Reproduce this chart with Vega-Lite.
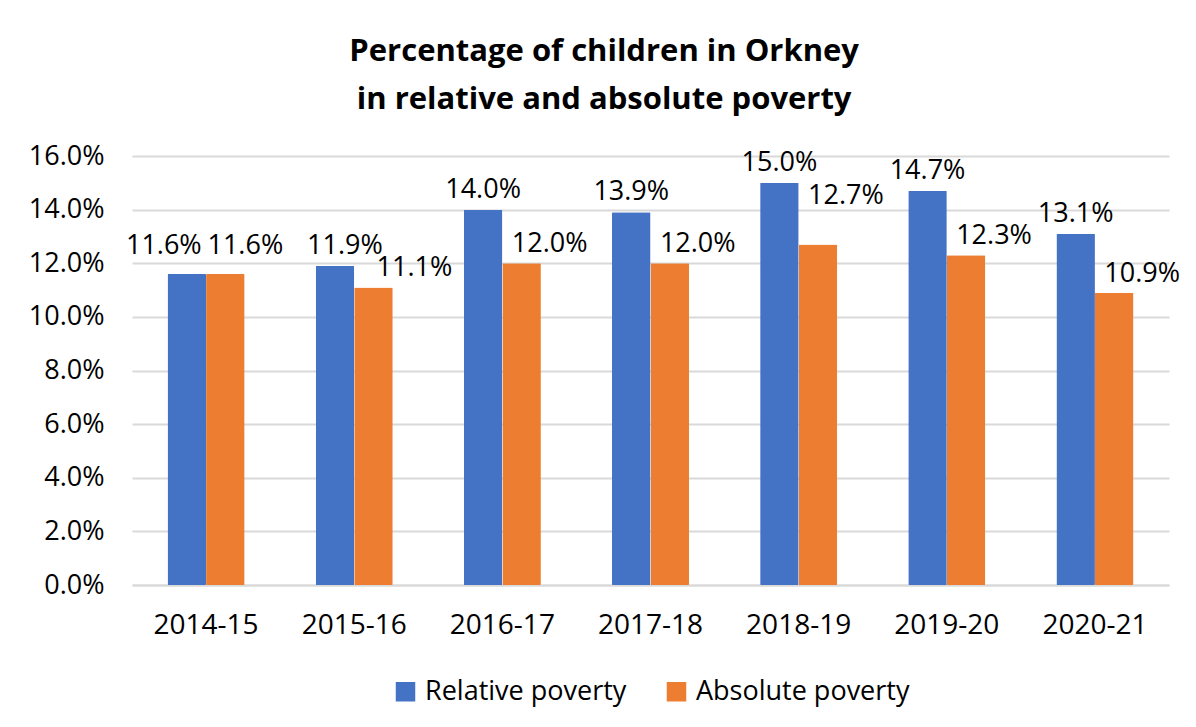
{
  "$schema": "https://vega.github.io/schema/vega-lite/v6.json",
  "width": 1037,
  "height": 429,
  "padding": {"left": 28, "top": 36, "right": 10, "bottom": 10},
  "background": "white",
  "title": {
    "text": ["Percentage of children in Orkney", "in relative and absolute poverty"],
    "font": "Open Sans",
    "fontSize": 31,
    "fontWeight": "bold",
    "color": "black",
    "anchor": "middle",
    "frame": "bounds",
    "lineHeight": 48,
    "offset": 26
  },
  "data": {
    "values": [
      {"year": "2014-15", "series": "Relative poverty", "value": 0.116},
      {"year": "2014-15", "series": "Absolute poverty", "value": 0.116},
      {"year": "2015-16", "series": "Relative poverty", "value": 0.119},
      {"year": "2015-16", "series": "Absolute poverty", "value": 0.111},
      {"year": "2016-17", "series": "Relative poverty", "value": 0.140},
      {"year": "2016-17", "series": "Absolute poverty", "value": 0.120},
      {"year": "2017-18", "series": "Relative poverty", "value": 0.139},
      {"year": "2017-18", "series": "Absolute poverty", "value": 0.120},
      {"year": "2018-19", "series": "Relative poverty", "value": 0.150},
      {"year": "2018-19", "series": "Absolute poverty", "value": 0.127},
      {"year": "2019-20", "series": "Relative poverty", "value": 0.147},
      {"year": "2019-20", "series": "Absolute poverty", "value": 0.123},
      {"year": "2020-21", "series": "Relative poverty", "value": 0.131},
      {"year": "2020-21", "series": "Absolute poverty", "value": 0.109}
    ]
  },
  "encoding": {
    "x": {
      "field": "year",
      "type": "nominal",
      "sort": null,
      "title": null,
      "scale": {"paddingInner": 0.48, "paddingOuter": 0.24},
      "axis": {
        "labelAngle": 0,
        "labelFont": "Open Sans",
        "labelFontSize": 28,
        "labelColor": "black",
        "labelPadding": 26,
        "ticks": false,
        "domain": true,
        "domainColor": "#d9d9d9",
        "domainWidth": 2
      }
    },
    "xOffset": {
      "field": "series",
      "type": "nominal",
      "sort": ["Relative poverty", "Absolute poverty"]
    },
    "y": {
      "field": "value",
      "type": "quantitative",
      "title": null,
      "scale": {"domain": [0, 0.16]},
      "axis": {
        "format": ".1%",
        "values": [0, 0.02, 0.04, 0.06, 0.08, 0.1, 0.12, 0.14, 0.16],
        "labelFont": "Open Sans",
        "labelFontSize": 27,
        "labelColor": "black",
        "labelPadding": 28,
        "labelOverlap": false,
        "ticks": false,
        "domain": false,
        "gridColor": "#d9d9d9",
        "gridWidth": 2
      }
    }
  },
  "layer": [
    {
      "mark": {"type": "bar", "cornerRadius": 1},
      "encoding": {
        "color": {
          "field": "series",
          "type": "nominal",
          "sort": ["Relative poverty", "Absolute poverty"],
          "scale": {"domain": ["Relative poverty", "Absolute poverty"], "range": ["#4472C4", "#ED7D31"]},
          "legend": {
            "orient": "bottom",
            "direction": "horizontal",
            "title": null,
            "labelFont": "Open Sans",
            "labelFontSize": 27,
            "labelColor": "black",
            "labelLimit": 400,
            "symbolType": "square",
            "symbolSize": 380,
            "symbolStrokeWidth": 0,
            "columnPadding": 36,
            "labelOffset": 6,
            "offset": 39
          }
        }
      }
    },
    {
      "transform": [{"filter": "datum.series === 'Relative poverty' && datum.year !== '2014-15' && datum.year !== '2015-16'"}],
      "mark": {"type": "text", "font": "Open Sans", "fontSize": 27, "color": "black", "baseline": "alphabetic", "dx": 0, "dy": -12},
      "encoding": {"text": {"field": "value", "type": "quantitative", "format": ".1%"}}
    },
    {
      "transform": [{"filter": "datum.series === 'Relative poverty' && datum.year === '2015-16'"}],
      "mark": {"type": "text", "font": "Open Sans", "fontSize": 27, "color": "black", "baseline": "alphabetic", "dx": 10, "dy": -12},
      "encoding": {"text": {"field": "value", "type": "quantitative", "format": ".1%"}}
    },
    {
      "transform": [{"filter": "datum.series === 'Relative poverty' && datum.year === '2014-15'"}],
      "mark": {"type": "text", "font": "Open Sans", "fontSize": 27, "color": "black", "baseline": "alphabetic", "dx": -23, "dy": -20},
      "encoding": {"text": {"field": "value", "type": "quantitative", "format": ".1%"}}
    },
    {
      "transform": [{"filter": "datum.series === 'Absolute poverty' && datum.year !== '2014-15' && datum.year !== '2018-19' && datum.year !== '2015-16'"}],
      "mark": {"type": "text", "font": "Open Sans", "fontSize": 27, "color": "black", "baseline": "alphabetic", "dx": 28, "dy": -11},
      "encoding": {"text": {"field": "value", "type": "quantitative", "format": ".1%"}}
    },
    {
      "transform": [{"filter": "datum.series === 'Absolute poverty' && datum.year === '2015-16'"}],
      "mark": {"type": "text", "font": "Open Sans", "fontSize": 27, "color": "black", "baseline": "alphabetic", "dx": 41, "dy": -11},
      "encoding": {"text": {"field": "value", "type": "quantitative", "format": ".1%"}}
    },
    {
      "transform": [{"filter": "datum.series === 'Absolute poverty' && datum.year === '2018-19'"}],
      "mark": {"type": "text", "font": "Open Sans", "fontSize": 27, "color": "black", "baseline": "alphabetic", "dx": 28, "dy": -40},
      "encoding": {"text": {"field": "value", "type": "quantitative", "format": ".1%"}}
    },
    {
      "transform": [{"filter": "datum.series === 'Absolute poverty' && datum.year === '2014-15'"}],
      "mark": {"type": "text", "font": "Open Sans", "fontSize": 27, "color": "black", "baseline": "alphabetic", "dx": 20, "dy": -20},
      "encoding": {"text": {"field": "value", "type": "quantitative", "format": ".1%"}}
    }
  ],
  "config": {
    "view": {"stroke": null},
    "legend": {"layout": {"bottom": {"anchor": "middle"}}}
  }
}
